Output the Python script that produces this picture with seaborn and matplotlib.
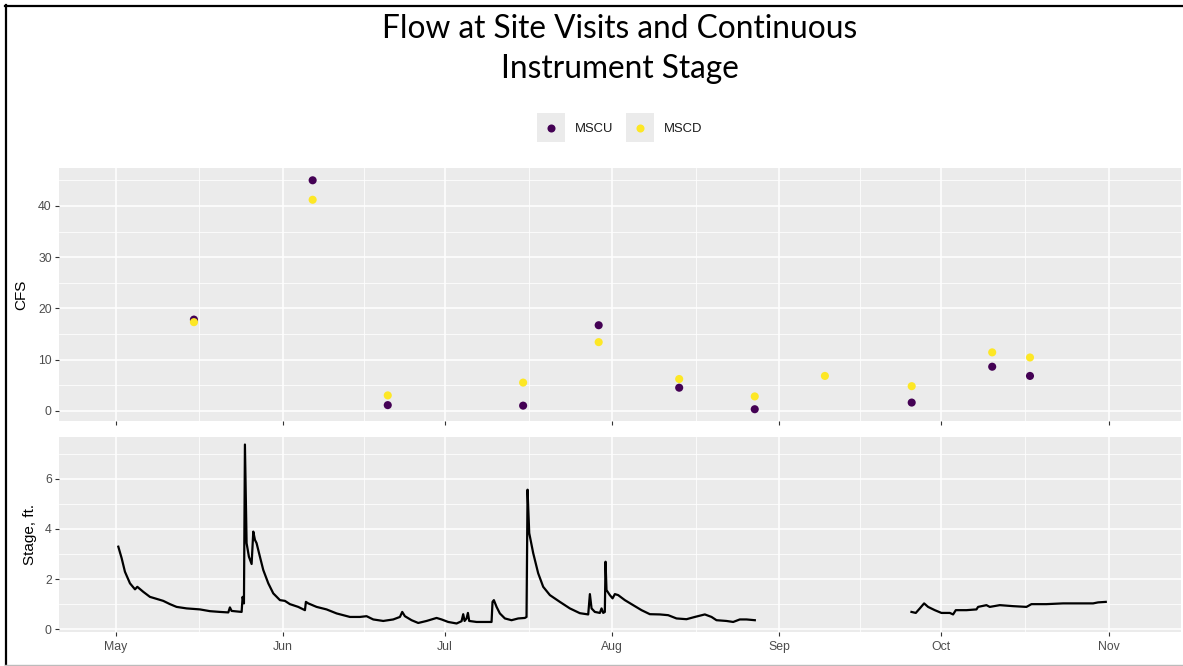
import numpy as np
import pandas as pd
import matplotlib
matplotlib.use("Agg")
import matplotlib.pyplot as plt
import matplotlib.dates as mdates
from matplotlib.lines import Line2D
from matplotlib.patches import Rectangle
from matplotlib.legend_handler import HandlerTuple, HandlerPatch
from matplotlib.ticker import FixedLocator
import seaborn as sns

# ---------------- data ----------------
visit_dates = ["2021-05-15 12:00", "2021-06-06 12:00", "2021-06-20 10:00",
               "2021-07-15 12:00", "2021-07-29 12:00", "2021-08-13 10:00",
               "2021-08-27 10:00", "2021-09-09 10:00", "2021-09-25 12:00",
               "2021-10-10 10:00", "2021-10-17 10:00"]
mscu_cfs = [17.8, 45.0, 1.1, 1.0, 16.7, 4.5, 0.3, np.nan, 1.6, 8.6, 6.8]
mscd_cfs = [17.3, 41.2, 3.0, 5.5, 13.4, 6.2, 2.8, 6.8, 4.8, 11.4, 10.4]
site_names = ["MSCU", "MSCD"]
site_colors = ["#440154", "#FDE725"]

stage_start = "2021-05-01"
# days after May 1 (segment 1: May-Aug, segment 2: late Sep-Oct)
stage_seg1_day = [0.49, 1.11, 1.72, 2.65, 3.58, 4.01, 5.12, 6.35, 7.90, 8.82,
                  10.06, 11.29, 13.15, 15.62, 17.47, 19.32, 20.87, 21.17, 21.48, 23.34,
                  23.52, 23.77, 23.95, 24.26, 24.69, 25.19, 25.50, 25.81, 26.11, 26.73,
                  27.35, 28.28, 29.20, 30.44, 31.36, 32.29, 33.83, 35.07, 35.25, 35.69,
                  37.23, 39.08, 40.94, 43.41, 45.26, 46.49, 47.73, 49.58, 51.43, 52.67,
                  53.10, 53.59, 54.83, 56.06, 57.61, 59.46, 60.39, 61.62, 63.17, 64.09,
                  64.40, 64.65, 65.02, 65.27, 65.51, 66.87, 68.10, 69.65, 69.83, 70.08,
                  70.58, 71.19, 72.12, 73.35, 74.59, 75.82, 76.13, 76.32, 76.63, 77.37,
                  78.29, 79.22, 80.46, 82.31, 84.16, 86.01, 87.56, 87.87, 88.18, 88.79,
                  89.72, 90.03, 90.34, 90.64, 90.77, 90.95, 91.57, 92.07, 92.50, 93.11,
                  94.35, 95.89, 97.44, 98.98, 100.83, 102.38, 103.92, 105.77, 107.32, 109.17,
                  110.41, 111.33, 113.18, 114.42, 115.65, 116.89, 118.43]
stage_seg1_ft = [3.29, 2.83, 2.29, 1.83, 1.59, 1.69, 1.49, 1.29, 1.19, 1.13,
                 1.00, 0.89, 0.83, 0.79, 0.72, 0.69, 0.67, 0.87, 0.73, 0.69,
                 1.29, 1.03, 7.36, 3.43, 2.89, 2.60, 3.89, 3.56, 3.43, 2.89,
                 2.36, 1.83, 1.43, 1.16, 1.13, 1.00, 0.89, 0.76, 1.09, 1.03,
                 0.89, 0.79, 0.63, 0.49, 0.49, 0.52, 0.39, 0.33, 0.39, 0.49,
                 0.69, 0.52, 0.36, 0.25, 0.33, 0.45, 0.39, 0.29, 0.23, 0.32,
                 0.60, 0.33, 0.43, 0.65, 0.33, 0.29, 0.29, 0.29, 1.09, 1.16,
                 0.89, 0.63, 0.43, 0.36, 0.43, 0.45, 0.49, 5.56, 3.83, 3.03,
                 2.23, 1.69, 1.36, 1.09, 0.83, 0.64, 0.59, 1.40, 0.83, 0.69,
                 0.65, 0.83, 0.65, 0.69, 2.69, 1.56, 1.36, 1.23, 1.40, 1.36,
                 1.16, 0.96, 0.76, 0.60, 0.59, 0.56, 0.43, 0.40, 0.49, 0.59,
                 0.49, 0.36, 0.33, 0.29, 0.39, 0.39, 0.36]
stage_seg2_day = [147.46, 148.26, 149.00, 149.80, 150.54, 151.78, 153.01, 154.56, 155.17, 155.67,
                  157.65, 159.50, 159.80, 161.35, 161.97, 163.82, 166.29, 168.76, 169.69, 172.46,
                  175.55, 178.64, 181.11, 182.04, 183.46]
stage_seg2_ft = [0.69, 0.65, 0.83, 1.03, 0.89, 0.76, 0.65, 0.65, 0.59, 0.76,
                 0.76, 0.79, 0.89, 0.96, 0.89, 0.96, 0.92, 0.89, 1.00, 1.00,
                 1.03, 1.03, 1.03, 1.07, 1.09]

month_labels = ["May", "Jun", "Jul", "Aug", "Sep", "Oct", "Nov"]
month_starts = ["2021-05-01", "2021-06-01", "2021-07-01", "2021-08-01",
                "2021-09-01", "2021-10-01", "2021-11-01"]

# ---------------- frames ----------------
visits = pd.DataFrame({
    "date": pd.to_datetime(visit_dates * 2),
    "cfs": mscu_cfs + mscd_cfs,
    "site": [site_names[0]] * len(visit_dates) + [site_names[1]] * len(visit_dates),
}).dropna()

t0 = pd.Timestamp(stage_start)
stage = pd.DataFrame({
    "date": [t0 + pd.Timedelta(days=d) for d in stage_seg1_day + stage_seg2_day],
    "stage": stage_seg1_ft + stage_seg2_ft,
    "segment": [1] * len(stage_seg1_day) + [2] * len(stage_seg2_day),
})

# ---------------- figure ----------------
W, H = 1183, 666
fig = plt.figure(figsize=(W / 100, H / 100), dpi=100)
fig.patch.set_facecolor("white")

def px_axes(left, top, right, bottom):
    return fig.add_axes([left / W, 1 - bottom / H, (right - left) / W, (bottom - top) / H])

ax1 = px_axes(59, 168, 1181, 421)
ax2 = px_axes(59, 437, 1181, 632)

palette = dict(zip(site_names, site_colors))
sns.scatterplot(data=visits, x="date", y="cfs", hue="site", palette=palette,
                hue_order=site_names, s=34, linewidth=0, legend=False, ax=ax1, zorder=3)
sns.lineplot(data=stage, x="date", y="stage", units="segment", estimator=None,
             color="black", linewidth=1.6, ax=ax2, zorder=3)

# x limits
xmin = mdates.date2num(t0) - 10.5
xmax = mdates.date2num(t0) + 197.4
major_x = mdates.date2num(pd.to_datetime(month_starts))
minor_x = (major_x[:-1] + major_x[1:]) / 2

for ax in (ax1, ax2):
    ax.set_facecolor("#EBEBEB")
    for s in ax.spines.values():
        s.set_visible(False)
    ax.set_xlim(xmin, xmax)
    ax.xaxis.set_major_locator(FixedLocator(major_x))
    ax.xaxis.set_minor_locator(FixedLocator(minor_x))
    ax.grid(which="major", color="white", linewidth=1.1)
    ax.grid(which="minor", color="white", linewidth=0.55)
    ax.set_axisbelow(True)
    ax.tick_params(which="major", length=2.7, width=0.8, color="#333333",
                   labelcolor="#4D4D4D", labelsize=8.8, pad=2.5)
    ax.tick_params(which="minor", length=0)
    ax.set_xlabel("")

ax1.set_ylim(-2.0, 47.4)
ax1.yaxis.set_major_locator(FixedLocator([0, 10, 20, 30, 40]))
ax1.yaxis.set_minor_locator(FixedLocator([5, 15, 25, 35, 45]))
ax1.set_xticklabels([])
ax1.set_ylabel("CFS", fontsize=11, family="Liberation Sans", color="black", labelpad=7)

ax2.set_ylim(-0.11, 7.66)
ax2.yaxis.set_major_locator(FixedLocator([0, 2, 4, 6]))
ax2.yaxis.set_minor_locator(FixedLocator([1, 3, 5, 7]))
ax2.set_xticklabels(month_labels, family="Liberation Sans")
ax2.tick_params(axis="x", pad=4)
ax2.set_ylabel("Stage, ft.", fontsize=11, family="Liberation Sans", color="black", labelpad=6)
for ax in (ax1, ax2):
    for lab in ax.get_yticklabels():
        lab.set_family("Liberation Sans")

# title
fig.text(619.5 / W, 1 - 14 / H, "Flow at Site Visits and Continuous\nInstrument Stage",
         ha="center", va="top", fontsize=22.8, family="Lato", color="black", linespacing=1.42)

# legend: grey key squares behind coloured dots
KEY_PT = 20.2  # key square side in points (28 px)

def key_square(legend, orig_handle, xdescent, ydescent, width, height, fontsize):
    cx = -xdescent + width / 2
    cy = (height - ydescent) / 2
    return Rectangle((cx - KEY_PT / 2, cy - KEY_PT / 2), KEY_PT, KEY_PT)

handles = []
for c in site_colors:
    box = Rectangle((0, 0), 1, 1, facecolor="#EBEBEB", edgecolor="none")
    dot = Line2D([], [], linestyle="none", marker="o", markersize=5.8,
                 markerfacecolor=c, markeredgewidth=0)
    handles.append((box, dot))
fig.legend(handles, site_names,
           handler_map={tuple: HandlerTuple(ndivide=1, pad=0),
                        Rectangle: HandlerPatch(patch_func=key_square)},
           loc="center", bbox_to_anchor=(619.5 / W, 1 - 129 / H), ncol=2, frameon=False,
           prop={"family": "Liberation Sans", "size": 9.4}, labelcolor="#1A1A1A",
           handlelength=KEY_PT / 9.4, handleheight=0.7, handletextpad=0.75,
           columnspacing=1.0, borderpad=0, borderaxespad=0)

# outer frame of the screenshot
fig.add_artist(Line2D([6 / W, 6 / W], [0, 1 - 5 / H], color="black", linewidth=1.6))
fig.add_artist(Line2D([5 / W, 1], [1 - 6 / H, 1 - 6 / H], color="black", linewidth=1.6))
fig.add_artist(Line2D([5 / W, 1], [1.2 / H, 1.2 / H], color="#BBBBBB", linewidth=1.0))

fig.savefig("out.png", dpi=100)
